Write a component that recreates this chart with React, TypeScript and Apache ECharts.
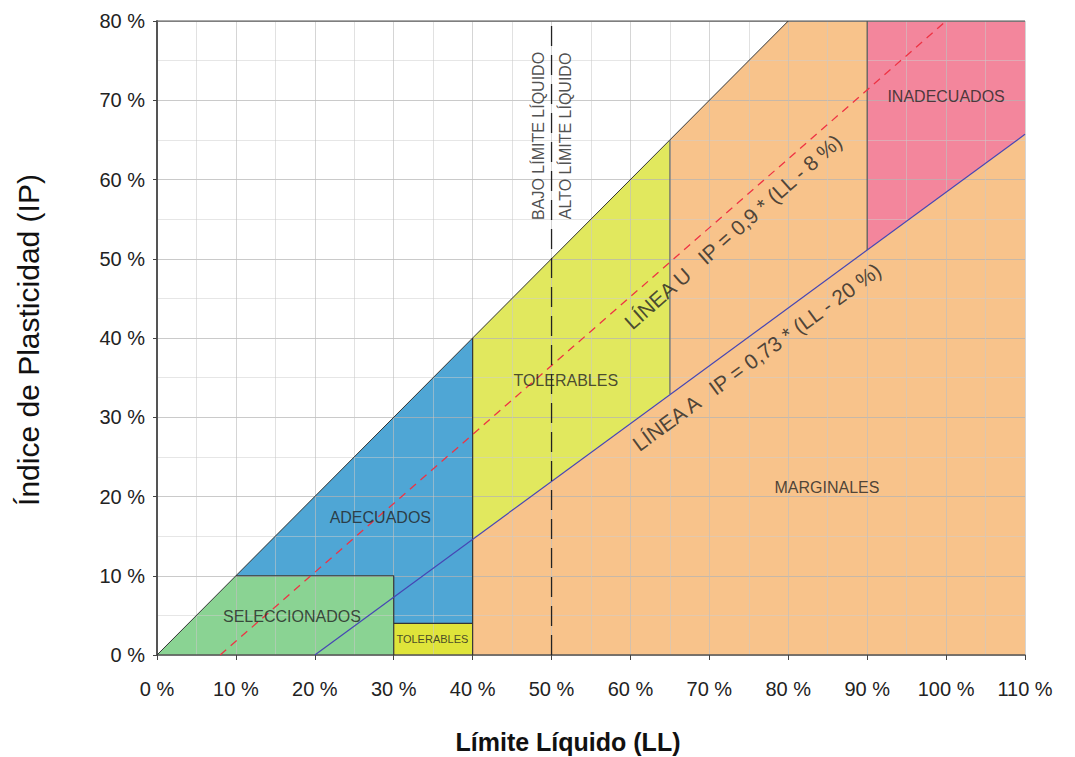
import React, { useEffect, useRef } from "react";
import * as echarts from "echarts";

// Regions (LL %, IP %)
const seleccionados = [[0, 0], [10, 10], [30, 10], [30, 0]];
const adecuados = [[10, 10], [40, 40], [40, 4], [30, 4], [30, 10]];
const toleSmall = [[30, 0], [30, 4], [40, 4], [40, 0]];
const tolerables = [[40, 14.6], [40, 40], [65, 65], [65, 32.9]];
const marginales = [[40, 0], [40, 14.6], [65, 32.9], [65, 65], [80, 80], [90, 80], [90, 51.1], [110, 65.7], [110, 0]];
const inadecuados = [[90, 51.1], [90, 80], [110, 80], [110, 65.7]];

// Lines
const lineaU = [[8, 0], [100, 80]];
const lineaA = [[20, 0], [110, 65.7]];
const diagonal = [[0, 0], [80, 80]];
const limite50 = [[50, 0], [50, 80]];
const bordeSel = [[10, 10], [30, 10], [30, 0]];
const bordeTolPeq = [[30, 4], [40, 4]];
const borde40 = [[40, 0], [40, 40]];
const borde65 = [[65, 32.9], [65, 65]];
const borde90 = [[90, 51.1], [90, 80]];
const bordeSup = [[0, 80], [110, 80]];

const FONT = "'Liberation Sans', Arial, Helvetica, sans-serif";

const textLabels = [
  { text: "SELECCIONADOS", at: [17.1, 4.8], size: 16, rot: 0 },
  { text: "ADECUADOS", at: [28.3, 17.3], size: 16, rot: 0 },
  { text: "TOLERABLES", at: [34.9, 2.0], size: 11, rot: 0 },
  { text: "TOLERABLES", at: [51.8, 34.6], size: 16, rot: 0 },
  { text: "MARGINALES", at: [84.9, 21.1], size: 16, rot: 0 },
  { text: "INADECUADOS", at: [100, 70.5], size: 16, rot: 0 },
  { text: "BAJO LÍMITE LÍQUIDO", at: [48.3, 65.5], size: 16, rot: 90 },
  { text: "ALTO LÍMITE LÍQUIDO", at: [51.8, 65.5], size: 16, rot: 90 },
  { text: "LÍNEA U   IP = 0,9 * (LL - 8 %)", at: [73.0, 53.4], size: 21, rot: 41.5 },
  { text: "LÍNEA A   IP = 0,73 * (LL - 20 %)", at: [76.0, 37.6], size: 21, rot: 36.2 },
];

function polySeries(pts: number[][], color: string) {
  return {
    type: "custom",
    data: pts,
    encode: { x: 0, y: 1 },
    z: 1,
    silent: true,
    renderItem: (params: any, api: any) => {
      if (params.dataIndex !== 0) return null;
      const points = pts.map((p) => api.coord(p));
      return { type: "polygon", shape: { points }, style: { fill: color } };
    },
  };
}

function lineSeries(pts: number[][], color: string, width: number, type: any = "solid") {
  return {
    type: "line",
    data: pts,
    symbol: "none",
    z: 6,
    silent: true,
    lineStyle: { color, width, type },
  };
}

export default function App() {
  const ref = useRef<HTMLDivElement>(null);
  useEffect(() => {
    document.body.style.margin = "0";
    const chart = echarts.init(ref.current!, null, { renderer: "svg" });
    const option: any = {
      animation: false,
      backgroundColor: "#ffffff",
      grid: { left: 157, right: 50, top: 21, bottom: 102, containLabel: false },
      xAxis: {
        type: "value",
        min: 0,
        max: 110,
        interval: 10,
        z: 3,
        axisLine: { show: true, onZero: false, lineStyle: { color: "#555", width: 1.5 } },
        axisTick: { show: true, length: 5, lineStyle: { color: "#444" } },
        axisLabel: { formatter: (v: number) => v + " %", fontSize: 20, color: "#222", fontFamily: FONT, margin: 24 },
        splitLine: { show: true, lineStyle: { color: "rgba(190,190,190,0.65)", width: 1 } },
        minorTick: { show: false, splitNumber: 2 },
        minorSplitLine: { show: true, lineStyle: { color: "rgba(200,200,200,0.55)", width: 1 } },
      },
      yAxis: {
        type: "value",
        min: 0,
        max: 80,
        interval: 10,
        z: 3,
        axisLine: { show: true, onZero: false, lineStyle: { color: "#555", width: 2 } },
        axisTick: { show: true, length: 4, lineStyle: { color: "#444" } },
        axisLabel: { formatter: (v: number) => v + " %", fontSize: 20, color: "#222", fontFamily: FONT, margin: 12 },
        splitLine: { show: true, lineStyle: { color: "rgba(180,180,180,0.7)", width: 1 } },
        minorTick: { show: false, splitNumber: 2 },
        minorSplitLine: { show: true, lineStyle: { color: "rgba(205,205,205,0.5)", width: 1 } },
      },
      graphic: [
        {
          type: "text",
          x: 28,
          y: 340,
          rotation: Math.PI / 2,
          style: { text: "Índice de Plasticidad (IP)", font: `30px ${FONT}`, fill: "#111", textAlign: "center", textVerticalAlign: "middle" },
        },
        {
          type: "text",
          x: 568,
          y: 742,
          style: { text: "Límite Líquido (LL)", font: `bold 25px ${FONT}`, fill: "#111", textAlign: "center", textVerticalAlign: "middle" },
        },
      ],
      series: [
        polySeries(marginales, "#f8c38b"),
        polySeries(inadecuados, "#f3869c"),
        polySeries(tolerables, "#e1e85e"),
        polySeries(adecuados, "#4fa6d5"),
        polySeries(seleccionados, "#8ad393"),
        polySeries(toleSmall, "#dfe43a"),
        lineSeries(bordeSup, "#666", 1.5),
        lineSeries(diagonal, "#333", 1),
        lineSeries(bordeSel, "#333", 1.2),
        lineSeries(bordeTolPeq, "#333", 1.2),
        lineSeries(borde40, "#333", 1.2),
        lineSeries(borde65, "#666", 1.2),
        lineSeries(borde90, "#555", 1.2),
        lineSeries(lineaA, "#4646b4", 1.2),
        lineSeries(lineaU, "#ee3344", 1.3, [8, 6]),
        lineSeries(limite50, "#222", 1.3, [20, 9]),
        {
          type: "scatter",
          z: 8,
          silent: true,
          symbolSize: 0,
          itemStyle: { color: "rgba(0,0,0,0)" },
          data: textLabels.map((t) => ({
            value: t.at,
            label: {
              show: true,
              position: "inside",
              formatter: t.text,
              rotate: t.rot,
              fontSize: t.size,
              color: "#222",
              fontFamily: FONT,
              align: "center",
              verticalAlign: "middle",
            },
          })),
        },
      ],
    };
    chart.setOption(option);
    return () => chart.dispose();
  }, []);
  return <div ref={ref} style={{ position: "fixed", left: 0, top: 0, width: 1075, height: 757 }} />;
}
